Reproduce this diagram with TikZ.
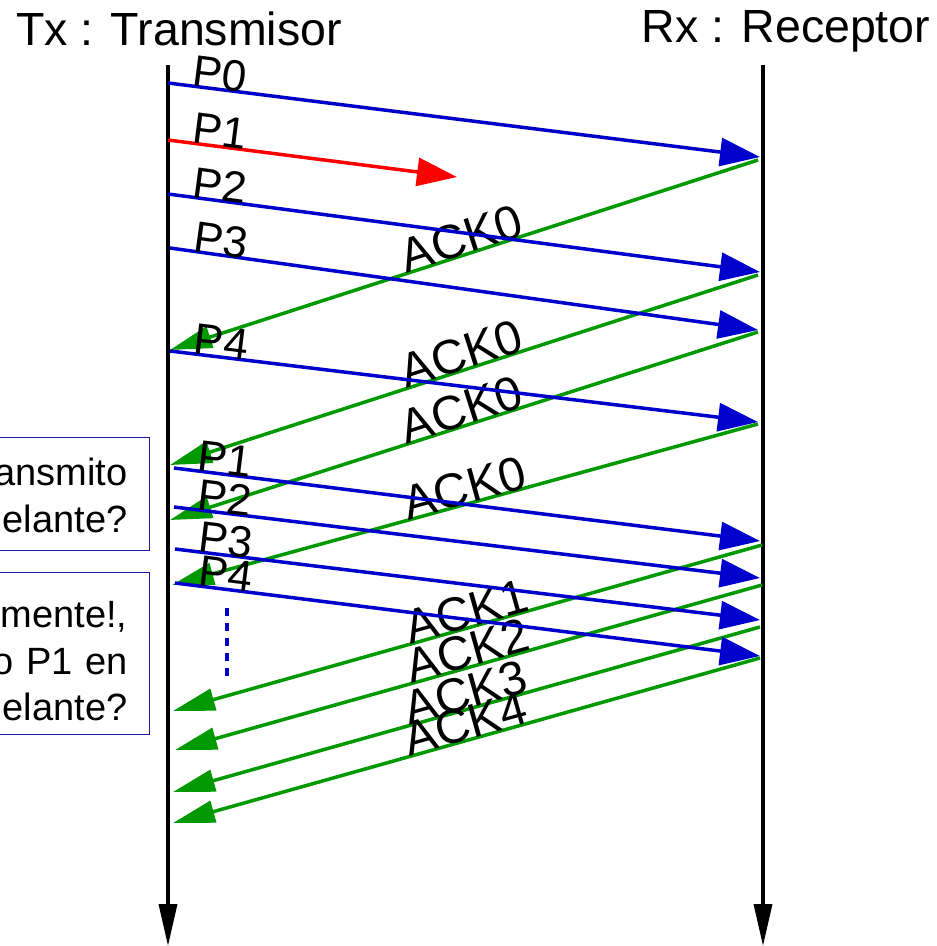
\documentclass[tikz,border=0pt]{standalone}
\usepackage{fontspec}
\setmainfont{Liberation Sans}
\usetikzlibrary{arrows.meta}
\definecolor{PktBlue}{HTML}{0000CC}
\definecolor{AckGreen}{HTML}{009900}
\definecolor{LostRed}{HTML}{FF0000}
\definecolor{NoteBlue}{HTML}{1A1AAA}

\begin{document}
\begin{tikzpicture}[
      x=1pt,y=-1pt,
      lifeline/.style={line width=3.5pt,-{Triangle[length=42pt,width=18pt]}},
      packet/.style={line width=3.5pt,color=PktBlue,-{Triangle[length=40pt,width=28pt]}},
      lost/.style={packet,color=LostRed},
      ack/.style={line width=3.5pt,color=AckGreen,-{Triangle[length=42pt,width=22pt]}},
      pending/.style={line width=3.5pt,color=PktBlue,dash pattern=on 8pt off 7pt},
      title/.style={anchor=base,inner sep=0pt,font=\fontsize{46.5}{50}\selectfont},
      plabel/.style={sloped,anchor=base west,inner sep=0pt,text=black,font=\fontsize{44}{46}\selectfont},
      acklabel/.style={plabel,pos=0.6,font=\fontsize{48}{50}\selectfont},
      note/.style={draw=NoteBlue,line width=1pt,anchor=north east,align=right,
        text width=180pt,inner xsep=22pt,inner ysep=0pt,font=\fontsize{38}{46.5}\selectfont}
    ]
      \useasboundingbox (0,0) rectangle (937,946);

      % both ends of the link
      \node[title] (tx) at (179,45) {Tx : Transmisor};
      \node[title] (rx) at (786,42) {Rx : Receptor};
      \coordinate (tx top) at (168,65);
      \coordinate (tx end) at (168,946);
      \coordinate (rx top) at (763,65);
      \coordinate (rx end) at (763,946);
      \draw[lifeline] (tx top) -- (tx end);
      \draw[lifeline] (rx top) -- (rx end);

      % first window
      \coordinate (p0 out) at (168,83);   \coordinate (p0 in) at (760,157);
      \coordinate (p1 out) at (168,140);  \coordinate (p1 lost) at (457,177);
      \coordinate (p2 out) at (168,194);  \coordinate (p2 in) at (760,272);
      \coordinate (p3 out) at (170,248);  \coordinate (p3 in) at (758,330);
      \coordinate (p4 out) at (170,351);  \coordinate (p4 in) at (758,422);

      % retransmission from P1
      \coordinate (q1 out) at (174,468);  \coordinate (q1 in) at (760,541);
      \coordinate (q2 out) at (174,507);  \coordinate (q2 in) at (760,578);
      \coordinate (q3 out) at (175,549);  \coordinate (q3 in) at (760,620);
      \coordinate (q4 out) at (175,583);  \coordinate (q4 in) at (760,656);

      % acknowledgements
      \coordinate (a0 out) at (758,160);  \coordinate (a0 in) at (170,350);
      \coordinate (b0 out) at (758,275);  \coordinate (b0 in) at (170,465);
      \coordinate (c0 out) at (758,332);  \coordinate (c0 in) at (170,520);
      \coordinate (d0 out) at (758,424);  \coordinate (d0 in) at (172,585);
      \coordinate (a1 out) at (762,545);  \coordinate (a1 in) at (173,711);
      \coordinate (a2 out) at (762,585);  \coordinate (a2 in) at (175,750);
      \coordinate (a3 out) at (760,627);  \coordinate (a3 in) at (173,792);
      \coordinate (a4 out) at (760,658);  \coordinate (a4 in) at (173,823);

      \draw[ack] (a0 out) -- node[acklabel] {ACK0} (a0 in);
      \draw[ack] (b0 out) -- node[acklabel] {ACK0} (b0 in);
      \draw[ack] (c0 out) -- node[acklabel] {ACK0} (c0 in);
      \draw[ack] (d0 out) -- node[acklabel] {ACK0} (d0 in);
      \draw[ack] (a1 out) -- node[acklabel] {ACK1} (a1 in);
      \draw[ack] (a2 out) -- node[acklabel] {ACK2} (a2 in);
      \draw[ack] (a3 out) -- node[acklabel] {ACK3} (a3 in);
      \draw[ack] (a4 out) -- node[acklabel] {ACK4} (a4 in);

      \draw[packet] (p0 out) -- node[plabel,pos=0.036] {P0} (p0 in);
      \draw[lost] (p1 out) -- node[plabel,pos=0.074] {P1} (p1 lost);
      \draw[packet] (p2 out) -- node[plabel,pos=0.036] {P2} (p2 in);
      \draw[packet] (p3 out) -- node[plabel,pos=0.036] {P3} (p3 in);
      \draw[packet] (p4 out) -- node[plabel,pos=0.036] {P4} (p4 in);
      \draw[packet] (q1 out) -- node[plabel,pos=0.036] {P1} (q1 in);
      \draw[packet] (q2 out) -- node[plabel,pos=0.036] {P2} (q2 in);
      \draw[packet] (q3 out) -- node[plabel,pos=0.036] {P3} (q3 in);
      \draw[packet] (q4 out) -- node[plabel,pos=0.036] {P4} (q4 in);

      % more packets follow
      \coordinate (more top) at (227,608);
      \coordinate (more end) at (227,677);
      \draw[pending] (more top) -- (more end);

      % notes on the left
      \node[note,text height=48pt,text depth=65pt] (ask1) at (150,437) {ansmito\\elante?};
      \node[note,text height=55pt,text depth=107pt] (ask2) at (150,572) {mente!,\\o P1 en\\elante?};
    \end{tikzpicture}
\end{document}
